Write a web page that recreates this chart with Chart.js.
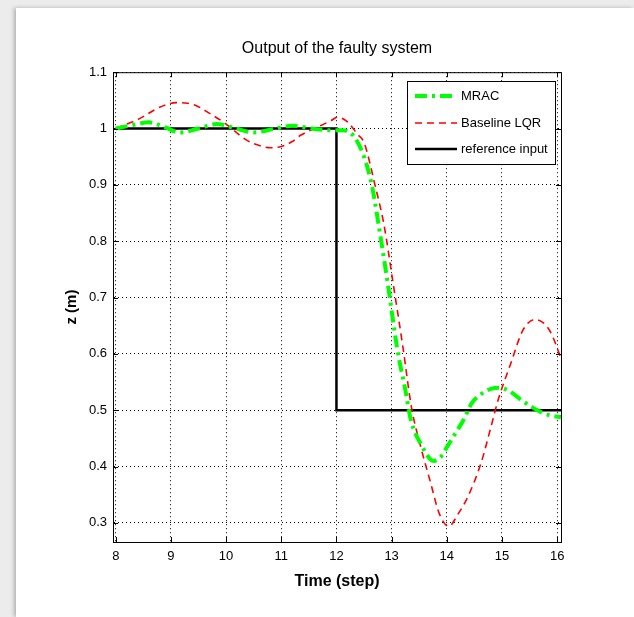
<!DOCTYPE html>
<html>
<head>
<meta charset="utf-8">
<script src="https://cdn.jsdelivr.net/npm/chart.js@4/dist/chart.umd.min.js"></script>
<style>
  html, body { margin: 0; padding: 0; }
  body { width: 634px; height: 617px; background: #ececec; position: relative; overflow: hidden; }
  #panel { position: absolute; left: 16px; top: 8px; width: 618px; height: 609px; background: #fff;
           box-shadow: -2px 0 4px rgba(0,0,0,0.25); }
  #wrap { position: absolute; left: 0; top: 0; width: 634px; height: 617px; }
</style>
</head>
<body>
<div id="panel"></div>
<div id="wrap"><canvas id="chart"></canvas></div>
<script>
const FONT = "'Liberation Sans', Arial, Helvetica, sans-serif";

const xTicks = [8, 9, 10, 11, 12, 13, 14, 15, 16];
const yTicks = [0.3, 0.4, 0.5, 0.6, 0.7, 0.8, 0.9, 1.0, 1.1];

const seriesNames = ['MRAC', 'Baseline LQR', 'reference input'];

const mracTime = [8, 8.3, 8.6, 8.9, 9.15, 9.5, 9.83, 10.15, 10.5, 10.85, 11.2, 11.55, 11.9, 12.1,
  12.25, 12.5, 12.65, 12.8, 12.93, 13.1, 13.25, 13.35, 13.53, 13.76, 13.9, 14.0, 14.15, 14.3,
  14.45, 14.6, 14.8, 14.95, 15.15, 15.35, 15.55, 15.7, 15.9, 16.07];
const mracValue = [1.0, 1.006, 1.011, 1.002, 0.993, 1.0, 1.008, 1.001, 0.993, 0.999, 1.005, 1.0, 0.997, 0.997,
  0.993, 0.95, 0.895, 0.807, 0.725, 0.61, 0.535, 0.482, 0.44, 0.41, 0.418, 0.434, 0.458, 0.482,
  0.512, 0.527, 0.538, 0.54, 0.533, 0.518, 0.505, 0.497, 0.49, 0.488];

const lqrTime = [8, 8.2, 8.44, 8.7, 8.9, 9.1, 9.3, 9.47, 9.7, 10.0, 10.2, 10.38, 10.6, 10.8, 11.0,
  11.2, 11.35, 11.55, 11.71, 11.9, 12.02, 12.2, 12.38, 12.5, 12.71, 12.86, 13.02, 13.2, 13.36,
  13.53, 13.71, 13.84, 13.95, 14.04, 14.2, 14.38, 14.62, 14.8, 14.93, 15.16, 15.38, 15.6, 15.75, 15.89, 16.07];
const lqrValue = [1.0, 1.008, 1.018, 1.033, 1.042, 1.046, 1.045, 1.04, 1.027, 1.008, 0.992, 0.979, 0.97, 0.966, 0.968,
  0.977, 0.988, 0.998, 1.005, 1.014, 1.02, 1.012, 0.99, 0.975, 0.895, 0.83, 0.73, 0.615, 0.505,
  0.434, 0.37, 0.323, 0.3, 0.294, 0.315, 0.346, 0.406, 0.47, 0.518, 0.583, 0.642, 0.661, 0.655, 0.637, 0.592];

const refTime = [8, 12, 12, 16.07];
const refValue = [1, 1, 0.5, 0.5];

const pts = (xs, ys) => xs.map((x, i) => ({ x: x, y: ys[i] }));

// axes box, tick marks inside, and the legend drawn MATLAB style
const matlabFrame = {
  id: 'matlabFrame',
  afterDraw(chart) {
    const { ctx, chartArea: a, scales } = chart;
    ctx.save();
    ctx.strokeStyle = '#000';
    ctx.lineWidth = 1;
    ctx.setLineDash([]);
    ctx.strokeRect(a.left + 0.5, a.top + 0.5, a.right - a.left, a.bottom - a.top);
    ctx.beginPath();
    xTicks.forEach(t => {
      const px = Math.round(scales.x.getPixelForValue(t)) + 0.5;
      ctx.moveTo(px, a.bottom); ctx.lineTo(px, a.bottom - 5);
      ctx.moveTo(px, a.top); ctx.lineTo(px, a.top + 5);
    });
    yTicks.forEach(t => {
      const py = Math.round(scales.y.getPixelForValue(t)) + 0.5;
      ctx.moveTo(a.left, py); ctx.lineTo(a.left + 5, py);
      ctx.moveTo(a.right, py); ctx.lineTo(a.right - 5, py);
    });
    ctx.stroke();

    // legend
    const lx = 407, ly = 81, lw = 148, lh = 83;
    ctx.fillStyle = '#fff';
    ctx.fillRect(lx, ly, lw, lh);
    ctx.strokeRect(lx + 0.5, ly + 0.5, lw, lh);
    const rows = [96, 123, 149];
    chart.data.datasets.forEach((ds, i) => {
      const y = rows[i];
      ctx.strokeStyle = ds.borderColor;
      ctx.lineWidth = ds.borderWidth;
      ctx.setLineDash(ds.borderDash || []);
      ctx.beginPath();
      ctx.moveTo(415, y); ctx.lineTo(457, y);
      ctx.stroke();
      ctx.setLineDash([]);
      ctx.fillStyle = '#000';
      ctx.font = '13px ' + FONT;
      ctx.textBaseline = 'middle';
      ctx.textAlign = 'left';
      ctx.fillText(ds.label, 461, y);
    });
    ctx.restore();
  }
};

new Chart(document.getElementById('chart'), {
  type: 'line',
  data: {
    datasets: [
      {
        label: seriesNames[0],
        data: pts(mracTime, mracValue),
        borderColor: '#00ff00',
        borderWidth: 4,
        borderDash: [12, 5, 3, 5],
        cubicInterpolationMode: 'monotone',
        pointRadius: 0,
      },
      {
        label: seriesNames[1],
        data: pts(lqrTime, lqrValue),
        borderColor: '#ff0000',
        borderWidth: 1.6,
        borderDash: [7, 5],
        cubicInterpolationMode: 'monotone',
        pointRadius: 0,
      },
      {
        label: seriesNames[2],
        data: pts(refTime, refValue),
        borderColor: '#000000',
        borderWidth: 2.5,
        tension: 0,
        pointRadius: 0,
      },
    ],
  },
  options: {
    responsive: true,
    maintainAspectRatio: false,
    animation: false,
    layout: { padding: { left: 0, right: 73, top: 0, bottom: 0 } },
    plugins: {
      legend: { display: false },
      tooltip: { enabled: false },
      title: {
        display: true,
        fullSize: false,
        text: 'Output of the faulty system',
        color: '#000',
        font: { family: FONT, size: 16, weight: 'normal' },
        padding: { top: 39, bottom: 14 },
      },
    },
    scales: {
      x: {
        type: 'linear',
        min: 7.95,
        max: 16.07,
        afterBuildTicks: (s) => { s.ticks = xTicks.map(v => ({ value: v })); },
        afterFit: (s) => { s.height = 75; },
        ticks: { color: '#000', font: { family: FONT, size: 13 }, padding: 7 },
        grid: { color: '#000', lineWidth: 1, drawTicks: false },
        border: { display: true, color: '#000', dash: [1, 3] },
        title: {
          display: true,
          text: 'Time (step)',
          color: '#000',
          font: { family: FONT, size: 16, weight: 'bold' },
          padding: { top: 0, bottom: 26 },
        },
      },
      y: {
        type: 'linear',
        min: 0.266,
        max: 1.1,
        afterBuildTicks: (s) => { s.ticks = yTicks.map(v => ({ value: v })); },
        afterFit: (s) => { s.width = 113; },
        ticks: {
          color: '#000',
          font: { family: FONT, size: 13 },
          padding: 6,
          callback: (v) => String(Math.round(v * 10) / 10),
        },
        grid: { color: '#000', lineWidth: 1, drawTicks: false },
        border: { display: true, color: '#000', dash: [1, 3] },
        title: {
          display: true,
          text: 'z (m)',
          color: '#000',
          font: { family: FONT, size: 15, weight: 'bold' },
          padding: { top: 63, bottom: 0 },
        },
      },
    },
  },
  plugins: [matlabFrame],
});
</script>
</body>
</html>
